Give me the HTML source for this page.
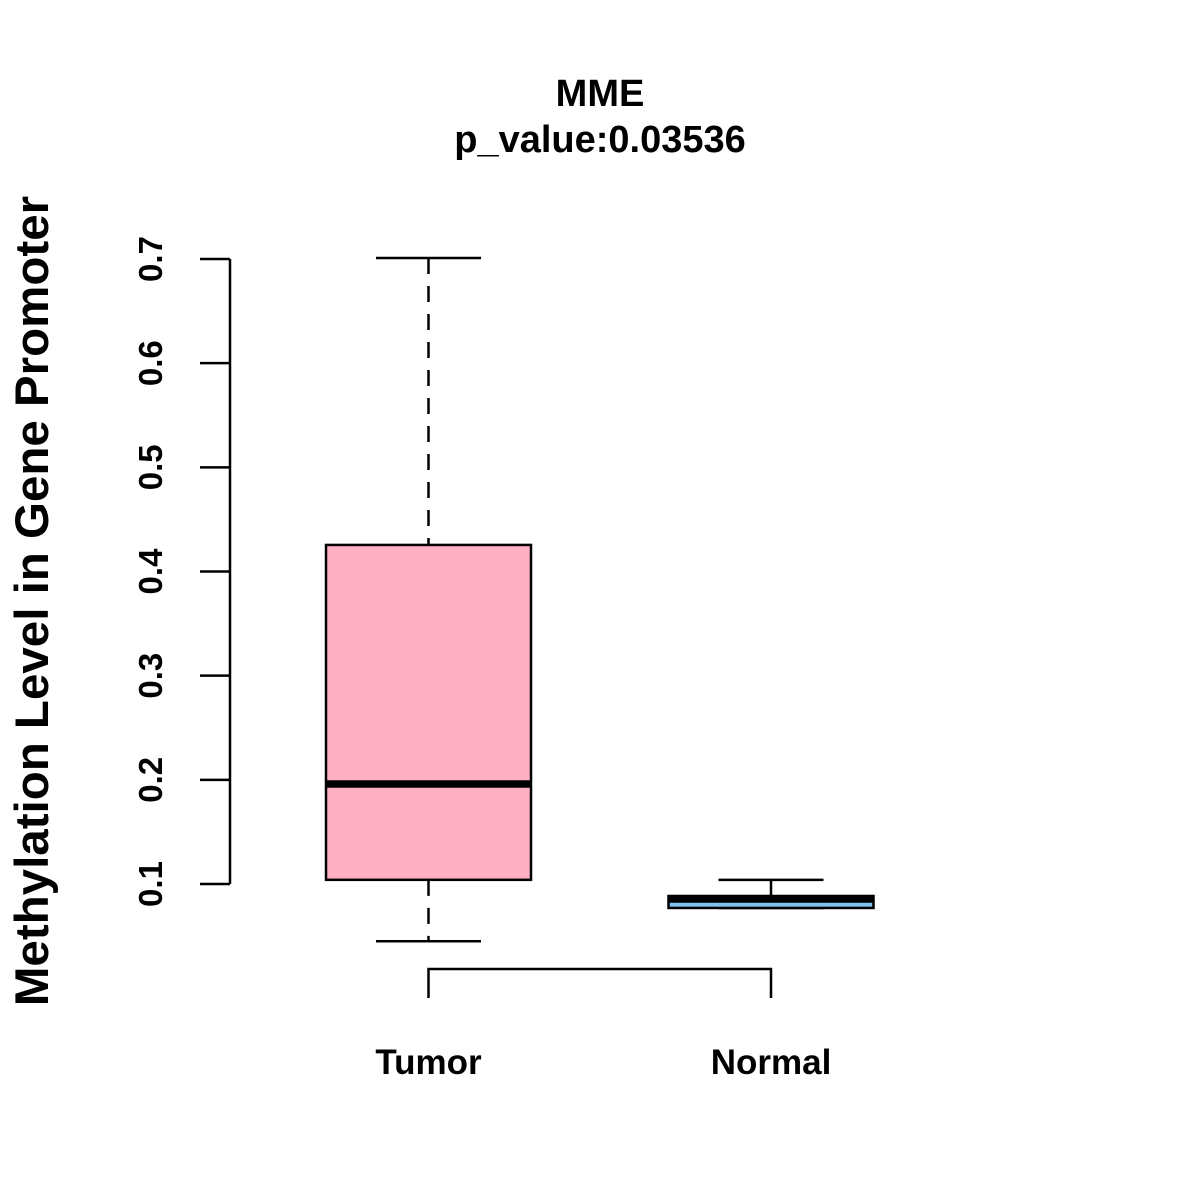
<!DOCTYPE html>
<html><head><meta charset="utf-8"><style>
html,body{margin:0;padding:0;background:#fff;}
svg{display:block;font-family:"Liberation Sans",Arial,sans-serif;font-weight:bold;}
</style></head><body>
<svg id="chart" width="1200" height="1200" viewBox="0 0 1200 1200">
<text x="600" y="106" text-anchor="middle" font-size="38">MME</text>
<text x="600" y="152" text-anchor="middle" font-size="38">p_value:0.03536</text>
<text transform="translate(48,601) rotate(-90)" text-anchor="middle" font-size="47.5">Methylation Level in Gene Promoter</text>
<g id="axis"></g>
<g id="boxes"></g>
<g id="xlabels"></g>
</svg>
<script>
const categories = ["Tumor", "Normal"];
const whiskerHigh = [0.701, 0.104];
const q3Values = [0.4255, 0.0885];
const medians = [0.196, 0.0856];
const q1Values = [0.104, 0.077];
const whiskerLow = [0.045, 0.077];
const yTicks = [0.1, 0.2, 0.3, 0.4, 0.5, 0.6, 0.7];
const yTickLabels = ["0.1", "0.2", "0.3", "0.4", "0.5", "0.6", "0.7"];
const fills = ["#FFB0C2", "#7EC0EE"];

const NS = "http://www.w3.org/2000/svg";
function yScale(v){ return 884 - (v - 0.1) * (625 / 0.6); }
function xScale(i){ return 428.5 + i * 342.5; }
function mk(tag, attrs, parent){
  const e = document.createElementNS(NS, tag);
  for (const k in attrs) e.setAttribute(k, attrs[k]);
  parent.appendChild(e); return e;
}
const axis = document.getElementById('axis');
const al = mk('line', {x1:230, x2:230, y1:yScale(yTicks[0]), y2:yScale(yTicks[yTicks.length-1]), stroke:'#000', 'stroke-width':2.5}, axis);


yTicks.forEach((t, i) => {
  const y = yScale(t);
  const tk = mk('line', {x1:200, x2:230, y1:y, y2:y, stroke:'#000', 'stroke-width':2.5}, axis);
  
  
  const tx = mk('text', {transform:`translate(162,${y}) rotate(-90)`, 'text-anchor':'middle', 'font-size':33}, axis);
  tx.textContent = yTickLabels[i];
  
  
});
const boxes = document.getElementById('boxes');
const halfW = 102.5, capW = 52.5;
categories.forEach((c, i) => {
  const cx = xScale(i);
  const g = mk('g', {}, boxes);
  
  
  mk('line', {x1:cx, x2:cx, y1:yScale(whiskerHigh[i]), y2:yScale(q3Values[i]), stroke:'#000', 'stroke-width':2.5, 'stroke-dasharray':'16,12'}, g);
  mk('line', {x1:cx, x2:cx, y1:yScale(q1Values[i]), y2:yScale(whiskerLow[i]), stroke:'#000', 'stroke-width':2.5, 'stroke-dasharray':'16,12'}, g);
  mk('line', {x1:cx-capW, x2:cx+capW, y1:yScale(whiskerHigh[i]), y2:yScale(whiskerHigh[i]), stroke:'#000', 'stroke-width':2.5}, g);
  mk('line', {x1:cx-capW, x2:cx+capW, y1:yScale(whiskerLow[i]), y2:yScale(whiskerLow[i]), stroke:'#000', 'stroke-width':2.5}, g);
  mk('rect', {x:cx-halfW, y:yScale(q3Values[i]), width:2*halfW, height:yScale(q1Values[i]) - yScale(q3Values[i]), fill:fills[i], stroke:'#000', 'stroke-width':2.5}, g);
  mk('line', {x1:cx-halfW, x2:cx+halfW, y1:yScale(medians[i]), y2:yScale(medians[i]), stroke:'#000', 'stroke-width':7.5}, g);
});
const xl = document.getElementById('xlabels');
const br = mk('path', {d:`M${xScale(0)},998 V969 H${xScale(1)} V998`, fill:'none', stroke:'#000', 'stroke-width':2.5}, xl);


categories.forEach((c, i) => {
  const t = mk('text', {x:xScale(i), y:1074, 'text-anchor':'middle', 'font-size':35}, xl);
  t.textContent = c;
  
  
});
</script>
</body></html>
